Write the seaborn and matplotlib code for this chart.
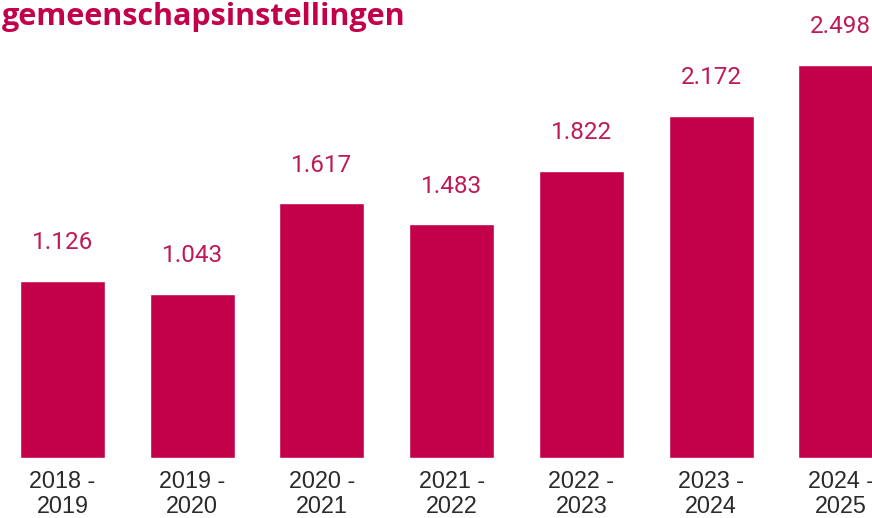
import matplotlib
matplotlib.use("Agg")
import matplotlib.pyplot as plt
import pandas as pd
import seaborn as sns

sns.set_theme(style="white")

years = ["2018 -\n2019", "2019 -\n2020", "2020 -\n2021", "2021 -\n2022",
         "2022 -\n2023", "2023 -\n2024", "2024 -\n2025"]
values = [1126, 1043, 1617, 1483, 1822, 2172, 2498]
value_labels = ["1.126", "1.043", "1.617", "1.483", "1.822", "2.172", "2.498"]

CRIMSON = "#C3004A"
LABEL = "#BF1A58"

df = pd.DataFrame({"jaar": years, "aantal": values})

fig = plt.figure(figsize=(8.72, 5.18), dpi=100)
ax = fig.add_axes([0, 60 / 518, 1, 458 / 518])
sns.barplot(data=df, x="jaar", y="aantal", color=CRIMSON, width=0.655,
            saturation=1, ax=ax)

for i, (v, lab) in enumerate(zip(values, value_labels)):
    ax.text(i, v + 242, lab, ha="center", va="center", color=LABEL,
            fontsize=17.5, family="Roboto")

ax.set_xlim(-0.482, 6.241)
ax.set_ylim(0, 2908)
ax.set_xlabel("")
ax.set_ylabel("")
ax.set_yticks([])
ax.tick_params(axis="x", length=0, pad=9)
for t in ax.get_xticklabels():
    t.set_fontsize(16.8)
    t.set_family("Liberation Sans")
    t.set_color("#2a2a2a")
    t.set_linespacing(1.08)
sns.despine(ax=ax, left=True, bottom=True)

fig.text(0.002, 0.997, "gemeenschapsinstellingen", ha="left", va="top",
         color=CRIMSON, fontsize=22, fontweight="bold", family="Open Sans")

fig.savefig("out.png", dpi=100)
